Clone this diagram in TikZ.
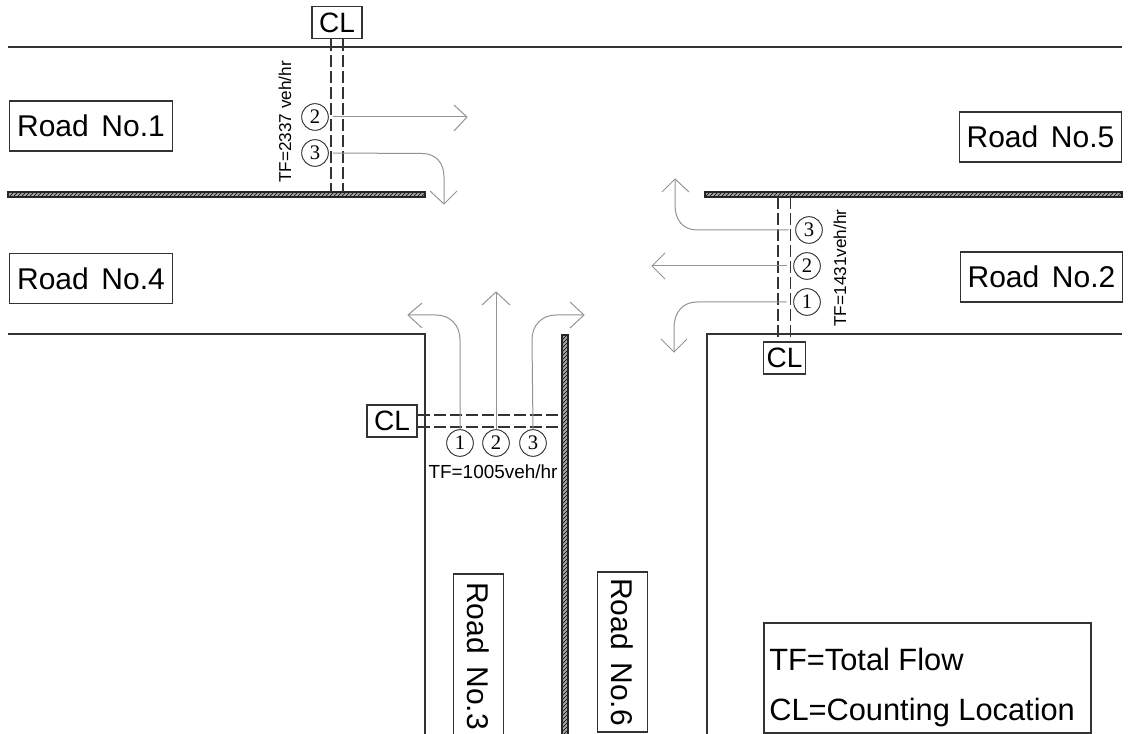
\documentclass[tikz,border=0pt]{standalone}
\usepackage{fontspec}
\setmainfont{Liberation Sans}
\newfontfamily\numfont{Liberation Serif}
\usetikzlibrary{patterns}
\definecolor{roadline}{gray}{0.2}
\definecolor{flowline}{gray}{0.58}
\newcommand{\roadtext}[1]{Road\hspace{9.5pt}No.#1}
\tikzset{
  road/.style={draw=roadline,line width=0.9pt},
  wall/.style={draw=black!85,line width=0.8pt,preaction={fill=black!35},pattern=north east lines,pattern color=black},
  counting/.style={draw=black!80,line width=1pt,dash pattern=on 9pt off 3pt},
  flow/.style={draw=flowline,line width=0.75pt},
  tagbox/.style={draw=black!80,line width=0.8pt,inner sep=0pt},
  tag/.style={tagbox,font=\fontsize{22.5}{23}\selectfont},
  cltag/.style={tagbox,font=\fontsize{21}{21}\selectfont},
  num/.style={circle,draw=black!80,line width=0.7pt,minimum size=20pt,inner sep=0pt,font=\numfont\fontsize{15.5}{16}\selectfont},
  tfa/.style={font=\fontsize{12.9}{13}\selectfont,inner sep=0pt},
  tfb/.style={font=\fontsize{14.2}{14}\selectfont,inner sep=0pt},
  legendtext/.style={anchor=base west,inner sep=0pt,font=\fontsize{23.1}{23}\selectfont},
}
\begin{document}
\begin{tikzpicture}[x=0.75pt,y=-0.75pt]
\useasboundingbox (0,0) rectangle (1128,734);
\fill[white] (0,0) rectangle (1128,734);
% roads
\coordinate (t1) at (8,47); \coordinate (t2) at (1122,47);
\draw[road] (t1) -- (t2);
\coordinate (l1) at (8,334); \coordinate (l2) at (425,334); \coordinate (l3) at (425,736);
\draw[road] (l1) -- (l2) -- (l3);
\coordinate (r1) at (1122,334); \coordinate (r2) at (707,334); \coordinate (r3) at (707,736);
\draw[road] (r1) -- (r2) -- (r3);
% walls
\path[wall] (8,192) rectangle (425,197);
\path[wall] (705,192) rectangle (1122,197);
\path[wall] (562,335) rectangle (568,738);
% CL top
\node[cltag,minimum width=37.5pt,minimum height=24.5pt] (cla) at (337,22.5) {CL};
\coordinate (a1) at (331,192); \coordinate (a2) at (343,192);
\draw[counting] (cla.south -| a1) -- (a1);
\draw[counting] (cla.south -| a2) -- (a2);
\node[num] (a2n) at (315,117) {2};
\node[num] (a3n) at (315,153) {3};
\coordinate (a2t) at (467,117);
\coordinate (a3t) at (444,204);
\draw[flow] ([xshift=3pt]a2n.east) -- (a2t);
\draw[flow] (454,105) -- (a2t) -- (454,131);
\draw[flow] ([xshift=3pt]a3n.east) -- (422,153.5) .. controls (436,153.5) and (444,163) .. (444,177) -- (a3t);
\draw[flow] (430,191) -- (a3t) -- (457,191);
\node[tfa,rotate=90] (atf) at (285,122) {TF=2337 veh/hr};
% CL right
\node[cltag,minimum width=32pt,minimum height=24pt] (clb) at (784.5,358) {CL};
\coordinate (b1) at (778,197); \coordinate (b2) at (790.5,197);
\draw[counting] (b1) -- (clb.north -| b1);
\draw[counting] (b2) -- (clb.north -| b2);
\node[num] (b3n) at (809,230) {3};
\node[num] (b2n) at (807,266) {2};
\node[num] (b1n) at (807,302) {1};
\coordinate (b3t) at (675,179);
\coordinate (b2t) at (652,266);
\coordinate (b1t) at (674,352);
\draw[flow] ([xshift=-5pt]b3n.west) -- (697,230) .. controls (683,230) and (675,220) .. (675,205) -- (b3t);
\draw[flow] (662,192) -- (b3t) -- (689,192);
\draw[flow] ([xshift=-5pt]b2n.west) -- (b2t);
\draw[flow] (665,253) -- (b2t) -- (665,279);
\draw[flow] ([xshift=-5pt]b1n.west) -- (697,302) .. controls (683,302) and (674,312) .. (674,328) -- (b1t);
\draw[flow] (661,339) -- (b1t) -- (687,339);
\node[tfa,rotate=90] (btf) at (840,268) {TF=1431veh/hr};
% CL lower
\node[cltag,minimum width=37.5pt,minimum height=24pt] (clc) at (392,421) {CL};
\coordinate (c1) at (562,415); \coordinate (c2) at (562,427);
\draw[counting] (clc.east |- c1) -- (c1);
\draw[counting] (clc.east |- c2) -- (c2);
\node[num] (c1n) at (460,443) {1};
\node[num] (c2n) at (496,443) {2};
\node[num] (c3n) at (533,443) {3};
\coordinate (c1t) at (408,315);
\coordinate (c2t) at (496,292);
\coordinate (c3t) at (584,315);
\draw[flow] (c1n.north) -- (460,340) .. controls (460,325) and (450,315) .. (436,315) -- (c1t);
\draw[flow] (422,303) -- (c1t) -- (422,328);
\draw[flow] (c2n.north) -- (c2t);
\draw[flow] (482,305) -- (c2t) -- (510,305);
\draw[flow] (c3n.north) -- (532,340) .. controls (532,325) and (542,315) .. (556,315) -- (c3t);
\draw[flow] (570,302) -- (c3t) -- (570,328);
\node[tfb] (ctf) at (493,472) {TF=1005veh/hr};
% labels
\node[tag,minimum width=122pt,minimum height=37.5pt] (r1l) at (91,126) {\roadtext{1}};
\node[tag,minimum width=122pt,minimum height=38pt] (r4l) at (91,278.5) {\roadtext{4}};
\node[tag,minimum width=122pt,minimum height=37.5pt] (r5l) at (1040.5,137) {\roadtext{5}};
\node[tag,minimum width=122pt,minimum height=37.5pt] (r2l) at (1041.5,277) {\roadtext{2}};
\node[tag,rotate=-90,minimum width=123pt,minimum height=38pt] (r3l) at (478.5,656) {\roadtext{3}};
\node[tag,rotate=-90,minimum width=120pt,minimum height=38pt] (r6l) at (622.5,652) {\roadtext{6}};
\draw[draw=black!80,line width=0.8pt] (764,623) rectangle (1091,733);
\node[legendtext] (lg1) at (769,670) {TF=Total Flow};
\node[legendtext] (lg2) at (769,720) {CL=Counting Location};
\end{tikzpicture}
\end{document}
